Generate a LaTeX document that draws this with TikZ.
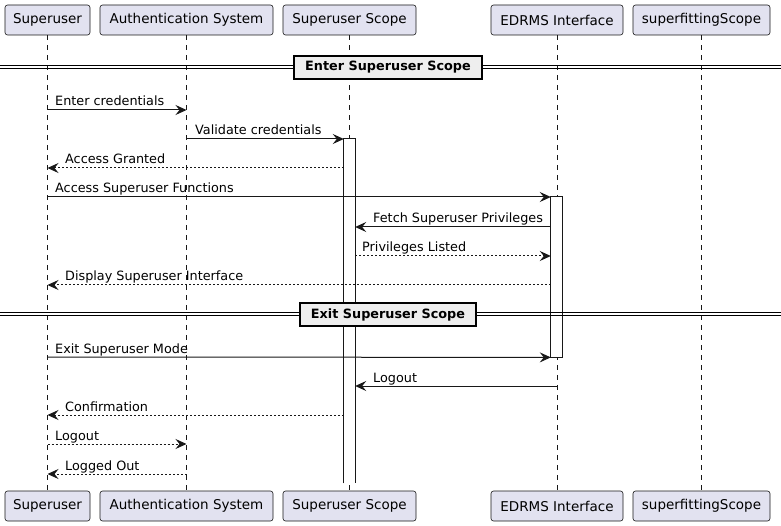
\documentclass[tikz,border=0pt]{standalone}
\usepackage{fontspec}
\setmainfont{DejaVu Sans}
\usetikzlibrary{arrows.meta}
\definecolor{partfill}{HTML}{E2E2F0}
\definecolor{ink}{HTML}{181818}
\definecolor{divfill}{HTML}{EEEEEE}
\begin{document}
\begin{tikzpicture}[x=1pt,y=-1pt,
  part/.style={draw=ink, fill=partfill, rounded corners=2.5pt, line width=0.6pt,
    minimum height=30pt, inner sep=0pt, font=\fontsize{13.5}{16}\selectfont},
  life/.style={draw=ink, line width=0.6pt, dash pattern=on 5pt off 5pt},
  act/.style={fill=white, inner sep=0pt, minimum width=11pt, anchor=north},
  actedge/.style={draw=ink, line width=1pt},
  msg/.style={draw=ink, line width=1pt, -{Stealth[length=11pt,width=10pt,inset=4pt]}},
  ret/.style={msg, dash pattern=on 2pt off 2pt},
  lbl/.style={font=\fontsize{12.8}{15}\selectfont, inner sep=0pt, anchor=base west, text=black},
  divline/.style={draw=black, line width=1pt},
  divbox/.style={draw=black, fill=divfill, line width=1.5pt, inner sep=0pt, minimum height=23pt,
    font=\bfseries\fontsize{12.8}{15}\selectfont},
]
\useasboundingbox (0,0) rectangle (781,526);
\fill[white] (0,0) rectangle (781,526);

% participants
\node[part, minimum width=85pt]  (suT) at (47.5,20) {Superuser};
\node[part, minimum width=173pt] (auT) at (186.5,20) {Authentication System};
\node[part, minimum width=133pt] (ssT) at (349.5,20) {Superuser Scope};
\node[part, minimum width=132pt] (edT) at (557,20) {EDRMS Interface};
\node[part, minimum width=137pt] (sfT) at (701.5,20) {superfittingScope};
\node[part, minimum width=85pt]  (suB) at (47.5,506) {Superuser};
\node[part, minimum width=173pt] (auB) at (186.5,506) {Authentication System};
\node[part, minimum width=133pt] (ssB) at (349.5,506) {Superuser Scope};
\node[part, minimum width=132pt] (edB) at (557,506) {EDRMS Interface};
\node[part, minimum width=137pt] (sfB) at (701.5,506) {superfittingScope};

% lifelines
\draw[life] (suT.south) -- (suB.north);
\draw[life] (auT.south) -- (auB.north);
\draw[life] (ssT.south) -- (ssB.north);
\draw[life] (edT.south) -- (edB.north);
\draw[life] (sfT.south) -- (sfB.north);

% activation bars
\node[act, minimum height=344pt] (ssA) at (349.5,139) {};
\draw[actedge] (ssA.south west) -- (ssA.north west) -- (ssA.north east) -- (ssA.south east);
\node[act, minimum height=160pt] (edA) at (556.5,197) {};
\draw[actedge] (edA.south west) rectangle (edA.north east);

% dividers
\coordinate (dL1) at (0,67);
\coordinate (dR1) at (781,67);
\draw[divline] ([yshift=-1.5pt]dL1) -- ([yshift=-1.5pt]dR1);
\draw[divline] ([yshift=1.5pt]dL1) -- ([yshift=1.5pt]dR1);
\node[divbox, minimum width=188pt] (div1) at (388,67.5) {Enter Superuser Scope};

\coordinate (dL2) at (0,314.5);
\coordinate (dR2) at (781,314.5);
\draw[divline] ([yshift=-1.5pt]dL2) -- ([yshift=-1.5pt]dR2);
\draw[divline] ([yshift=1.5pt]dL2) -- ([yshift=1.5pt]dR2);
\node[divbox, minimum width=176pt] (div2) at (388,314.5) {Exit Superuser Scope};

% messages
\draw[msg] (suT.south |- 0,110) -- (auT.south |- 0,110);
\node[lbl] (m1) at (55,106) {Enter credentials};

\draw[msg] (auT.south |- 0,139) -- (ssA.north west);
\node[lbl] (m2) at (195,135) {Validate credentials};

\draw[ret] (ssA.west |- 0,168) -- (suT.south |- 0,168);
\node[lbl] (m3) at (65,164) {Access Granted};

\draw[msg] (suT.south |- 0,197) -- (edA.north west);
\node[lbl] (m4) at (55,193) {Access Superuser Functions};

\draw[msg] (edA.west |- 0,227) -- (ssA.east |- 0,227);
\node[lbl] (m5) at (373,223) {Fetch Superuser Privileges};

\draw[ret] (ssA.east |- 0,256) -- (edA.west |- 0,256);
\node[lbl] (m6) at (362,252) {Privileges Listed};

\draw[ret] (edA.west |- 0,285) -- (suT.south |- 0,285);
\node[lbl] (m7) at (65,281) {Display Superuser Interface};

\draw[msg] (suT.south |- 0,357) -- (edA.south west);
\node[lbl] (m8) at (55,353) {Exit Superuser Mode};

\draw[msg] (edT.south |- 0,386) -- (ssA.east |- 0,386);
\node[lbl] (m9) at (373,382) {Logout};

\draw[ret] (ssA.west |- 0,415) -- (suT.south |- 0,415);
\node[lbl] (m10) at (65,411) {Confirmation};

\draw[ret] (suT.south |- 0,444) -- (auT.south |- 0,444);
\node[lbl] (m11) at (55,440) {Logout};

\draw[ret] (auT.south |- 0,474) -- (suT.south |- 0,474);
\node[lbl] (m12) at (65,470) {Logged Out};
\end{tikzpicture}
\end{document}
